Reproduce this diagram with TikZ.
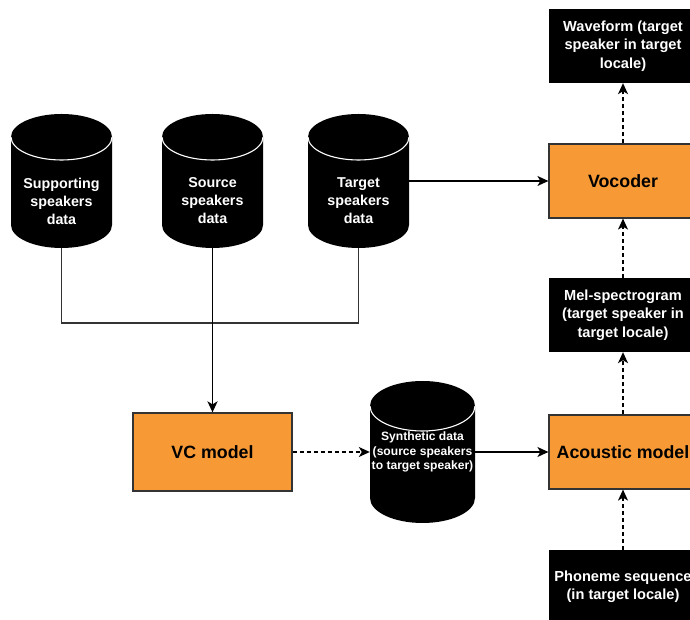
\documentclass[tikz,border=0pt]{standalone}
\usepackage{fontspec}
\setmainfont{Liberation Sans}
\usetikzlibrary{arrows.meta}
\definecolor{orng}{HTML}{F79A35}
\definecolor{edgec}{HTML}{333333}
\newcommand\dbcyl[5]{%
  \fill[black] ({#1-#4},{#2-#5}) arc[start angle=180,end angle=0,x radius=#4pt,y radius=#5pt]
     -- ({#1+#4},{#3+#5}) arc[start angle=0,end angle=-180,x radius=#4pt,y radius=#5pt] -- cycle;
  \draw[white,line width=1.1pt] ({#1-#4},{#2-#5}) arc[start angle=180,end angle=360,x radius=#4pt,y radius=#5pt];
}
\tikzset{
  cyltext/.style={text=white,font=\bfseries\fontsize{14.3}{18}\selectfont,align=center,inner sep=0pt},
  cylshape/.style={inner sep=0pt,minimum width=101pt,minimum height=134pt},
  orbox/.style={draw=edgec,line width=1.2pt,fill=orng,font=\bfseries\fontsize{17.8}{20}\selectfont,minimum width=148pt,minimum height=74pt,inner sep=0pt},
  blkbox/.style={fill=black,text=white,font=\bfseries\fontsize{14.6}{18.5}\selectfont,align=center,minimum width=148pt,minimum height=74pt,inner sep=0pt},
  conn/.style={draw=black,line width=1.3pt,-{Stealth[length=11pt,width=10pt,inset=3pt]}},
  dashconn/.style={conn,dash pattern=on 4pt off 3pt},
  plainline/.style={draw=edgec,line width=1.2pt},
}
\begin{document}
\begin{tikzpicture}[x=1pt,y=1pt]
\useasboundingbox (0,0) rectangle (690,620);
\clip (0,0) rectangle (690,620);
\fill[white] (0,0) rectangle (690,620);

% cylinders
\dbcyl{61.5}{506}{372}{50.5}{23}
\dbcyl{212.5}{506}{372}{50.5}{23}
\dbcyl{358.5}{506}{372}{50.5}{23}
\dbcyl{422.5}{239}{97}{52.5}{25}

\node[cylshape] (sup) at (61.5,439) {};
\node[cylshape] (src) at (212.5,439) {};
\node[cylshape] (tgt) at (358.5,439) {};
\node[cyltext] (supt) at (61.5,419) {Supporting\\speakers\\data};
\node[cyltext] (srct) at (212.5,419) {Source\\speakers\\data};
\node[cyltext] (tgtt) at (358.5,419) {Target\\speakers\\data};
\node[cylshape,minimum width=105pt,minimum height=142pt,text=white,align=center,
  font=\bfseries\fontsize{12.1}{14.3}\selectfont] (syn) at (422.5,168)
  {Synthetic data\\(source speakers\\to target speaker)};

% boxes
\node[orbox,minimum width=159pt,minimum height=78pt] (vc) at (212.5,168) {VC model};
\node[orbox] (acm) at (623,168) {Acoustic model};
\node[orbox] (voc) at (623,439) {Vocoder};
\node[blkbox] (wav) at (623,574) {Waveform (target\\speaker in target\\locale)};
\node[blkbox] (mel) at (623,305) {Mel-spectrogram\\(target speaker in\\target locale)};
\node[blkbox] (pho) at (623,33) {Phoneme sequence\\(in target locale)};

% connectors
\coordinate (j1) at (61.5,297);
\coordinate (j2) at (358.5,297);
\draw[plainline] (sup.south) -- (j1) -- (j2) -- (tgt.south);
\draw[conn,line width=1.9pt] (src.south) -- (vc.north);
\draw[conn] (tgt.east) -- (voc.west);
\draw[dashconn] (vc.east) -- (syn.west);
\draw[conn] (syn.east) -- (acm.west);
\draw[dashconn] (acm.north) -- (mel.south);
\draw[dashconn] (mel.north) -- (voc.south);
\draw[dashconn] (voc.north) -- (wav.south);
\draw[dashconn] (pho.north) -- (acm.south);
\end{tikzpicture}
\end{document}
